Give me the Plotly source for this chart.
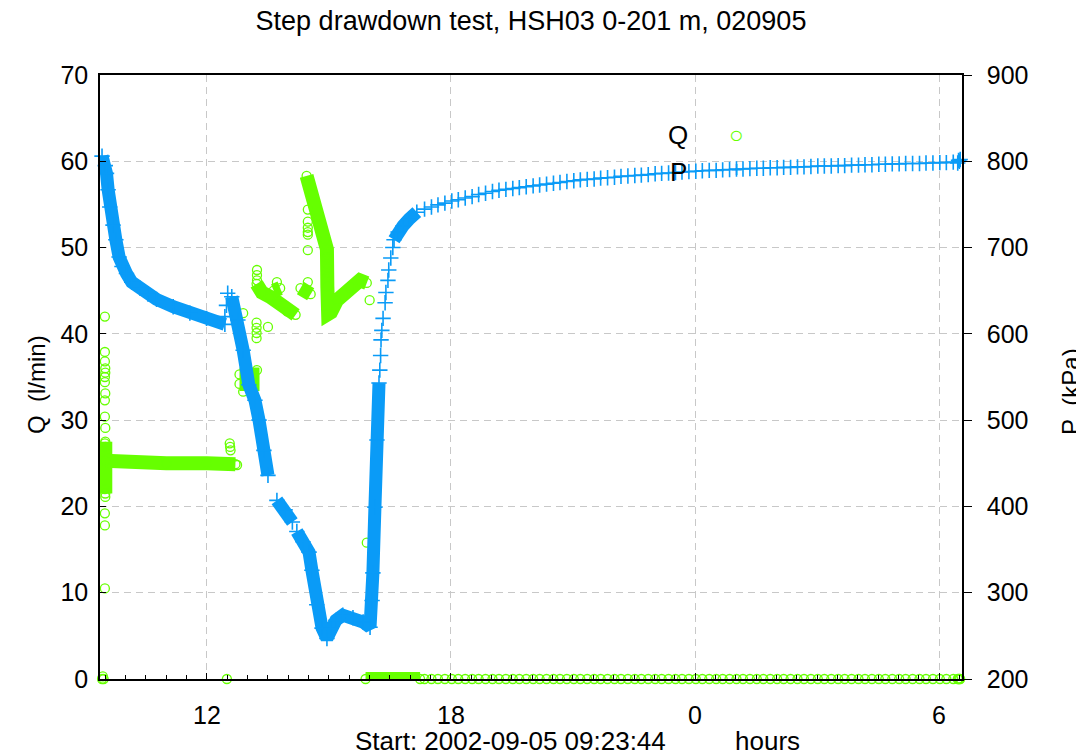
import plotly.graph_objects as go

FONT = "Liberation Sans, Arial, sans-serif"
P_COLOR = "#0A9BF7"
Q_COLOR = "#66FF00"

# ---------------- data (hours since 2002-09-05 00:00) ----------------
# P (kPa) dense recorded stretches, None = break in record
p_seg_hours = [9.42, 9.50, 9.53, 9.57, 9.61, 9.69, 9.76, 9.84, 9.91, 10.02, 10.15, 10.35, 10.55, 10.76,
               11.17, 11.58, 11.99, 12.44,
               None,
               12.61, 12.76, 12.89, 13.03, 13.18, 13.28, 13.40, 13.50,
               None,
               13.72, 13.92, 14.10,
               None,
               14.21, 14.36, 14.51, 14.58, 14.70, 14.83, 14.95, 15.05, 15.17, 15.34, 15.59, 15.84, 16.01,
               16.06, 16.08, 16.13, 16.18, 16.23,
               None,
               16.60, 16.70, 16.82, 16.97, 17.16]
p_seg_kpa = [806, 795, 786, 767, 747, 726, 709, 689, 678, 670, 660, 653, 646, 640,
             631.5, 624, 618, 611,
             None,
             643, 616, 581, 541, 523, 500, 465, 436,
             None,
             407, 396, 382,
             None,
             371, 359, 347, 326, 286, 259, 247, 259, 268, 274, 271, 266, 260,
             291, 323, 399, 477, 543,
             None,
             709, 718, 725, 733, 741]

# P isolated readings
p_sparse_hours = [12.44, 12.48, 12.51, 16.25, 16.27, 16.28, 16.30, 16.33, 16.38, 16.40, 16.45, 16.47, 16.52, 16.57]
p_sparse_kpa = [620, 633, 647, 558, 575, 593, 604, 618, 636, 648, 662, 674, 688, 700]

# 10-minute logging after the pumping stopped (shared time base for P and Q)
tail_hours = [17.35, 17.52, 17.68, 17.85, 18.02, 18.18, 18.35, 18.52, 18.68, 18.85,
              19.02, 19.18, 19.35, 19.52, 19.68, 19.85, 20.02, 20.18, 20.35, 20.52,
              20.68, 20.85, 21.02, 21.18, 21.35, 21.52, 21.68, 21.85, 22.02, 22.18,
              22.35, 22.52, 22.68, 22.85, 23.02, 23.18, 23.35, 23.52, 23.68, 23.85,
              24.02, 24.18, 24.35, 24.52, 24.68, 24.85, 25.02, 25.18, 25.35, 25.52,
              25.68, 25.85, 26.02, 26.18, 26.35, 26.52, 26.68, 26.85, 27.02, 27.18,
              27.35, 27.52, 27.68, 27.85, 28.02, 28.18, 28.35, 28.52, 28.68, 28.85,
              29.02, 29.18, 29.35, 29.52, 29.68, 29.85, 30.02, 30.18, 30.35,
              30.46, 30.48, 30.50, 30.52]
p_tail_kpa = [744.5, 747, 749.5, 751.5, 754, 755.5, 757.5, 759, 761.5, 763,
              765, 766.5, 767.5, 768.5, 769.5, 770.5, 771.5, 772.5, 773.5, 774.5,
              775.5, 776.5, 777.5, 778.5, 779, 779.5, 780.5, 781, 781.5, 782.5,
              783, 783.5, 784, 784.5, 785.5, 786, 786.5, 787, 787.5, 788,
              788.5, 789, 789.5, 789.5, 790, 790.5, 791, 791, 791.5, 792,
              792, 792.5, 792.5, 793, 793, 793.5, 793.5, 794, 794.5, 794.5,
              794.5, 795, 795, 795.5, 795.5, 796, 796, 796.5, 796.5, 797,
              797, 797.5, 797.5, 797.5, 798, 798, 798.5, 798.5, 799,
              798, 801, 800, 802]
q_tail_lpm = [0.0] * len(tail_hours)

# Q (l/min) dense recorded stretches
q_seg_hours = [9.50, 9.50,
               None,
               9.50, 10.0, 11.0, 12.0, 12.70,
               None,
               12.80, 13.12, 13.12, 12.80,
               None,
               13.22, 13.35, 13.55, 13.72, 13.97, 14.18,
               None,
               13.64, 13.80,
               None,
               14.30, 14.55,
               None,
               14.45, 14.57, 14.74, 14.90, 14.95, 14.96, 14.98, 15.05, 15.20, 15.52, 15.76, 15.93,
               None,
               15.90, 17.24]
q_seg_lpm = [27.5, 21.5,
             None,
             25.3, 25.1, 25.0, 25.0, 24.9,
             None,
             35.3, 35.3, 34.2, 34.2,
             None,
             45.8, 44.8, 44.3, 43.6, 42.6, 42.2,
             None,
             45.0, 45.3,
             None,
             45.3, 44.6,
             None,
             58.3, 56.2, 53.4, 51.0, 49.8, 45.5, 42.3, 42.5, 43.9, 45.4, 46.2, 45.9,
             None,
             0.0, 0.0]

# Q isolated readings
q_sparse_hours = [9.49, 9.49, 9.49, 9.50, 9.50, 9.49, 9.49, 9.50, 9.49, 9.49, 9.50, 9.49, 9.50,
                  9.49, 9.50, 9.49, 9.49, 9.49, 9.42, 9.44, 9.46,
                  12.49, 12.56, 12.57, 12.58, 12.74,
                  12.89, 12.89, 13.23, 13.22, 13.22, 13.22, 13.22, 13.50, 13.23, 13.23, 13.23, 13.72,
                  14.48, 14.48, 14.48, 14.48, 14.48, 14.48, 14.48,
                  14.95, 14.95, 14.95, 14.95, 14.95, 14.95,
                  16.00, 15.93]
q_sparse_lpm = [42.0, 37.9, 36.8, 36.0, 35.5, 35.0, 34.4, 33.1, 32.3, 30.4, 29.1, 27.3, 26.9,
                22.0, 21.1, 19.2, 17.8, 10.5, 0.0, 0.3, 0.0,
                0.0, 27.3, 26.9, 26.5, 24.8,
                42.4, 33.3, 35.8, 41.3, 40.7, 40.1, 39.5, 40.8, 47.4, 46.8, 46.2, 46.0,
                54.4, 53.0, 52.3, 51.8, 51.5, 49.7, 46.0,
                49.4, 48.8, 48.2, 47.6, 47.1, 46.5,
                43.9, 15.8]

x_tickvals = [12, 18, 24, 30]
x_ticktext = ["12", "18", "0", "6"]
q_ticks = [0, 10, 20, 30, 40, 50, 60, 70]
p_ticks = [200, 300, 400, 500, 600, 700, 800, 900]

# ---------------- figure ----------------
def strip_none(xs, ys):
    pts = [(a, b) for a, b in zip(xs, ys) if a is not None]
    return [a for a, _ in pts], [b for _, b in pts]

qb_x, qb_y = strip_none(q_seg_hours, q_seg_lpm)
pb_x, pb_y = strip_none(p_seg_hours, p_seg_kpa)

fig = go.Figure()

fig.add_trace(go.Scatter(x=q_seg_hours, y=q_seg_lpm, mode="lines", connectgaps=False,
                         line=dict(color=Q_COLOR, width=14), showlegend=False,
                         hoverinfo="skip", cliponaxis=False))
fig.add_trace(go.Scatter(x=q_sparse_hours + qb_x + tail_hours,
                         y=q_sparse_lpm + qb_y + q_tail_lpm,
                         mode="markers", name="Q", showlegend=False,
                         marker=dict(symbol="circle-open", size=9, color=Q_COLOR,
                                     line=dict(width=1.3, color=Q_COLOR)),
                         cliponaxis=False))
fig.add_trace(go.Scatter(x=p_seg_hours, y=p_seg_kpa, yaxis="y2", mode="lines", connectgaps=False,
                         line=dict(color=P_COLOR, width=13), showlegend=False,
                         hoverinfo="skip", cliponaxis=False))
fig.add_trace(go.Scatter(x=pb_x + p_sparse_hours + tail_hours,
                         y=pb_y + p_sparse_kpa + p_tail_kpa,
                         yaxis="y2", mode="markers", name="P", showlegend=False,
                         marker=dict(symbol="cross-thin", size=11, color=P_COLOR,
                                     line=dict(width=1.6, color=P_COLOR)),
                         cliponaxis=False))

grid = dict(showgrid=True, gridcolor="#c8c8c8", gridwidth=1, griddash="7px,5px")
tickfont = dict(family=FONT, size=25, color="black")

FIG_W, FIG_H = 1076, 756


def px_x(px):
    return (px - 100) / 862.0


def px_y(py):
    return (679 - py) / 604.0


def label(text, x, y, size=26, color="black", angle=0):
    return dict(text=text, x=px_x(x), y=px_y(y), xref="paper", yref="paper", showarrow=False,
                textangle=angle, font=dict(family=FONT, size=size, color=color),
                xanchor="center", yanchor="middle")


fig.update_layout(
    width=FIG_W, height=FIG_H,
    margin=dict(l=100, r=114, t=75, b=77),
    paper_bgcolor="white", plot_bgcolor="white",
    font=dict(family=FONT, color="black"),
    showlegend=False,
    title=dict(text="Step drawdown test, HSH03 0-201 m, 020905", x=0.5, xref="paper",
               y=1 - 21 / FIG_H, yref="container", yanchor="middle", xanchor="center",
               font=dict(family=FONT, size=27, color="black")),
    xaxis=dict(range=[9.37, 30.565], tickvals=x_tickvals, ticktext=x_ticktext,
               showline=True, linecolor="black", linewidth=1.5, mirror=True,
               ticks="inside", ticklen=6, tickcolor="black", tickwidth=1,
               minor=dict(dtick=0.5, tick0=0, ticks="inside", ticklen=4, tickcolor="black", showgrid=False),
               zeroline=False, tickfont=tickfont, ticklabelstandoff=13, **grid),
    yaxis=dict(range=[0, 70], tickvals=q_ticks, showline=True, linecolor="black", linewidth=1.5,
               ticks="inside", ticklen=6, tickcolor="black", zeroline=False,
               tickfont=tickfont, ticklabelstandoff=5, **grid),
    yaxis2=dict(range=[200, 900], tickvals=p_ticks, overlaying="y", side="right",
                showline=True, linecolor="black", linewidth=1.5, showgrid=False,
                ticks="outside", ticklen=8, tickcolor="black", zeroline=False,
                tickfont=tickfont, ticklabelstandoff=10),
    annotations=[
        label("Q", 678, 135),
        label("\u25CB", 736, 134, size=24, color=Q_COLOR),
        label("P", 678, 172),
        label("+", 736, 169, size=22, color=P_COLOR),
        label("Start: 2002-09-05 09:23:44", 510, 741),
        label("hours", 767, 741),
        label("Q\u00a0\u00a0(l/min)", 36, 385, size=24, angle=-90),
        label("P\u00a0\u00a0(kPa)", 1070, 392, size=24, angle=-90),
    ],
)

# remove the browser's default 8 px body margin so the figure sits at the window origin
fig.write_html("out.html", config={"displayModeBar": False},
               post_script="document.body.style.margin='0px';")
